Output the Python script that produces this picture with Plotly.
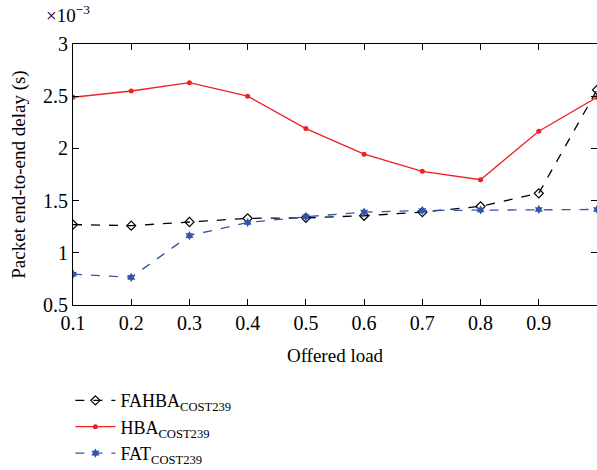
import plotly.graph_objects as go

offered_load = [0.1, 0.2, 0.3, 0.4, 0.5, 0.6, 0.7, 0.8, 0.9, 1.0]
fahba = [1.27, 1.26, 1.295, 1.33, 1.335, 1.355, 1.39, 1.445, 1.57, 2.56]
hba = [2.49, 2.55, 2.63, 2.50, 2.19, 1.945, 1.78, 1.70, 2.165, 2.49]
fat = [0.795, 0.765, 1.165, 1.29, 1.345, 1.39, 1.405, 1.41, 1.415, 1.415]

x_ticks = [0.1, 0.2, 0.3, 0.4, 0.5, 0.6, 0.7, 0.8, 0.9, 1.0]
x_labels = ["0.1", "0.2", "0.3", "0.4", "0.5", "0.6", "0.7", "0.8", "0.9", "1"]
y_ticks = [0.5, 1, 1.5, 2, 2.5, 3]
y_labels = ["0.5", "1", "1.5", "2", "2.5", "3"]

FONT = "Liberation Serif"

fig = go.Figure()
fig.add_trace(go.Scatter(
    x=offered_load, y=fahba, mode="lines+markers",
    name="FAHBA<sub>COST239</sub>",
    line=dict(color="black", width=1.3, dash="dash"),
    marker=dict(symbol="diamond-open", size=7, color="black", line=dict(width=1.2)),
))
fig.add_trace(go.Scatter(
    x=offered_load, y=hba, mode="lines+markers",
    name="HBA<sub>COST239</sub>",
    line=dict(color="#ee2222", width=1.3),
    marker=dict(symbol="circle", size=5, color="#ee2222"),
))
fig.add_trace(go.Scatter(
    x=offered_load, y=fat, mode="lines+markers",
    name="FAT<sub>COST239</sub>",
    line=dict(color="#3355aa", width=1.3, dash="dash"),
    marker=dict(symbol="hexagram", size=7, color="#3355aa"),
))

axis_common = dict(
    showline=True, linecolor="black", linewidth=1, mirror="ticks",
    ticks="inside", ticklen=6, tickcolor="black", showgrid=False, zeroline=False,
    tickfont=dict(family=FONT, size=20, color="black"), automargin=False,
)

fig.update_layout(
    width=597, height=470,
    margin=dict(l=73, r=0, t=44, b=165),
    paper_bgcolor="white", plot_bgcolor="white",
    font=dict(family=FONT, color="black"),
    xaxis=dict(range=[0.1, 1.0], tickvals=x_ticks, ticktext=x_labels,
               title=dict(text="Offered load", font=dict(family=FONT, size=19), standoff=15),
               **axis_common),
    yaxis=dict(range=[0.5, 3.0], tickvals=y_ticks, ticktext=y_labels,
               title=dict(text="Packet end-to-end delay (s)", font=dict(family=FONT, size=19), standoff=12),
               **axis_common),
    legend=dict(x=-0.005, y=0.187, xanchor="left", yanchor="top", yref="container",
                font=dict(family=FONT, size=18, color="black"),
                bgcolor="rgba(0,0,0,0)", tracegroupgap=0, itemwidth=40),
    showlegend=True,
)
fig.add_annotation(text="×10<sup>−3</sup>", xref="paper", yref="paper",
                   x=-0.055, y=1.06, xanchor="left", yanchor="bottom", showarrow=False,
                   font=dict(family=FONT, size=19, color="black"))

fig.write_html(
    "out.html",
    config={"displayModeBar": False},
    post_script="document.body.style.margin='0';document.body.style.overflow='hidden';",
)
